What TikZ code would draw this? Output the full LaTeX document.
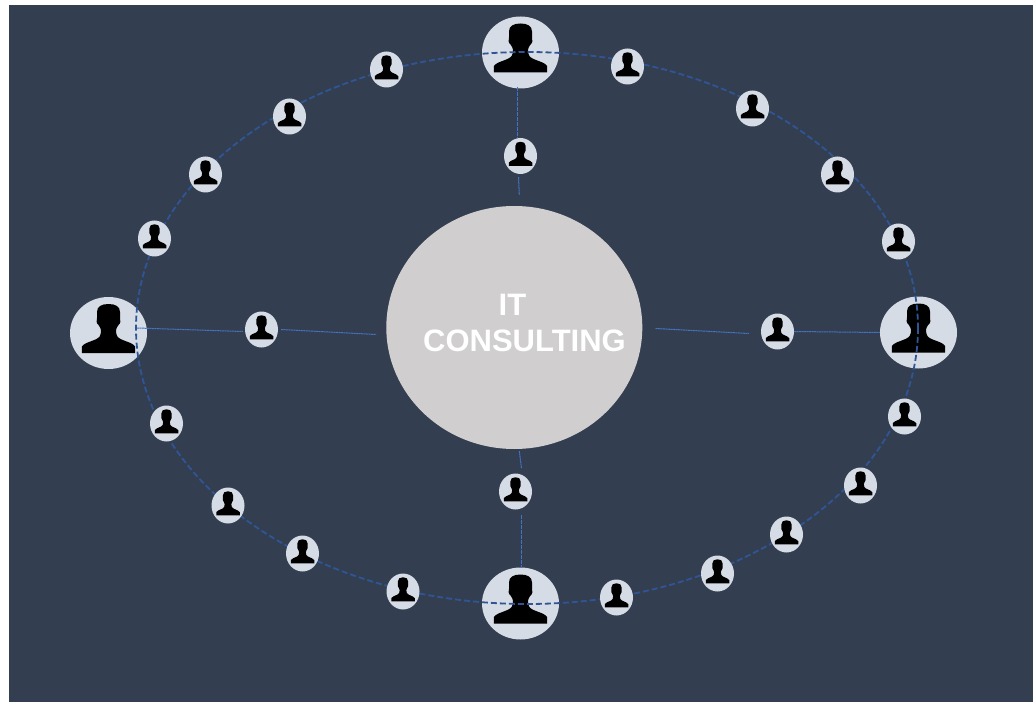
\documentclass[tikz,border=0pt]{standalone}
\usepackage{fontspec}
\setmainfont{Liberation Sans}
\usetikzlibrary{shapes.geometric}
\definecolor{vslate}{HTML}{333f50}
\definecolor{vpale}{HTML}{d6dce5}
\definecolor{vgray}{HTML}{d0cece}
\definecolor{vring}{HTML}{2f5597}
\definecolor{vspoke}{HTML}{4472c4}
\tikzset{
	bigperson/.style={ellipse, fill=vpale, inner sep=0pt, minimum width=77pt, minimum height=72pt},
	smallperson/.style={ellipse, fill=vpale, inner sep=0pt, minimum width=33pt, minimum height=36pt},
	hubtext/.style={font=\bfseries\fontsize{31}{31}\selectfont, text=white},
	ringline/.style={color=vring, line width=1.8pt, dash pattern=on 6pt off 3pt},
	spoke/.style={color=vspoke, line width=1pt, dash pattern=on 2pt off .5pt},
	pics/person/.style n args={2}{code={
		\fill[black, xscale=#1, yscale=#2]
			(-26.7,20) -- (-26.7,13.5) .. controls (-25,10.5) and (-19,9) .. (-13,6.5)
			.. controls (-9,4.5) and (-7.5,3) .. (-7.5,-3) .. controls (-7.5,-5) and (-9,-6) .. (-10,-8)
			.. controls (-12,-9) and (-12.5,-13) .. (-11.5,-15) -- (-11.5,-21)
			.. controls (-11.5,-26.5) and (-7,-29) .. (0,-29) .. controls (7,-29) and (11.5,-26.5) .. (11.5,-21)
			-- (11.5,-15) .. controls (12.5,-13) and (12,-9) .. (10,-8)
			.. controls (9,-6) and (7.5,-5) .. (7.5,-3) .. controls (7.5,3) and (9,4.5) .. (13,6.5)
			.. controls (19,9) and (25,10.5) .. (26.7,13.5) -- (26.7,20) -- cycle;}},
}
\begin{document}
\begin{tikzpicture}[x=1pt, y=-1pt]
	\useasboundingbox (0,0) rectangle (1033,711);
	\fill[vslate] (9,5) rectangle (1033,702);
	\node[ellipse, fill=vgray, inner sep=0pt, minimum width=256pt, minimum height=243pt] (hub) at (514.3,327.5) {};
	\node[hubtext] (hubtop) at (512.5,305) {IT};
	\node[hubtext] (hubbottom) at (524.5,341) {CONSULTING};
	\foreach \name/\x/\y in {bigtop/520.5/52.5, bigleft/108.5/333, bigright/918.5/332.5, bigbottom/520.5/603.5}{
		\node[bigperson] (\name) at (\x,\y) {};
		\pic at (\name) {person={1}{1}};
	}
	\draw[ringline] (527,328) ellipse (391 and 276);
	\foreach \name/\x/\y in {ring1/386.5/69.5, ring2/289.5/116.5, ring3/205.5/174.5, ring4/154.5/238.5,
		ring5/166.5/423.5, ring6/228/505.5, ring7/302.5/553.5, ring8/403/591.5, ring9/616.5/597.5,
		ring10/717.5/573.5, ring11/786.5/534.5, ring12/860.5/485.5, ring13/904.5/416.5,
		ring14/898.5/241.5, ring15/837.5/174.5, ring16/752.5/108.5, ring17/627.5/66.5,
		smalltop/520.5/156, smallleft/261.5/329.5, smallright/777.5/331.5, smallbottom/515.5/491.5}{
		\node[smallperson] (\name) at (\x,\y) {};
		\pic at (\name) {person={.44}{.49}};
	}
	\draw[spoke] ([shift={(-3,-2)}]bigtop.south) -- ([xshift=-3]smalltop.north);
	\draw[spoke] ([shift={(-2,3)}]smalltop.south) -- ([shift={(5,-11)}]hub.north);
	\draw[spoke] ([shift={(-10,-5)}]bigleft.east) -- ([shift={(-2,2)}]smallleft.west);
	\draw[spoke] ([xshift=3]smallleft.east) -- ([shift={(-10,7)}]hub.west);
	\draw[spoke] ([shift={(13,1)}]hub.east) -- ([shift={(-12,2)}]smallright.west);
	\draw[spoke] (smallright.east) -- (bigright.west);
	\draw[spoke] ([shift={(5,2)}]hub.south) -- ([shift={(6,-5)}]smallbottom.north);
	\draw[spoke] ([shift={(6,5)}]smallbottom.south) -- ([xshift=1]bigbottom.north);
\end{tikzpicture}
\end{document}
